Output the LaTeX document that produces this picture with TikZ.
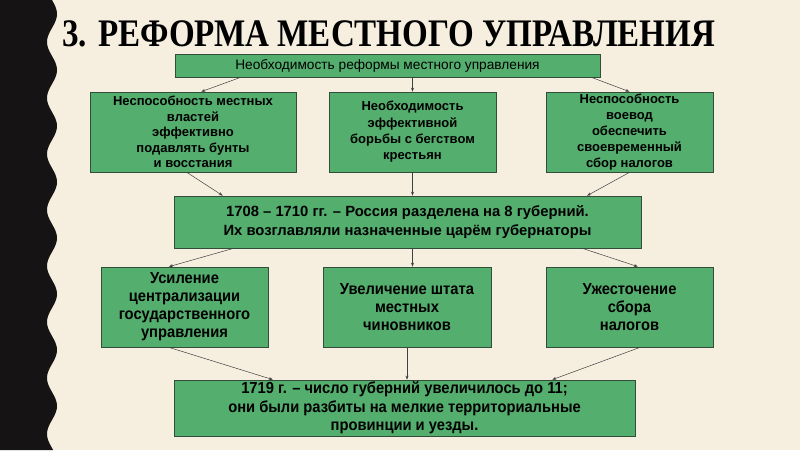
\documentclass[tikz,border=0pt]{standalone}
\usepackage{fontspec}
\setmainfont{Liberation Sans}
\newfontfamily\titlefont{Liberation Serif}
\newfontfamily\narrowfont[FakeStretch=0.92]{Liberation Sans}
\usetikzlibrary{arrows.meta,calc}
\definecolor{paper}{RGB}{246,239,224}
\definecolor{band}{RGB}{21,19,20}
\definecolor{boxgreen}{RGB}{84,174,110}
\definecolor{boxline}{RGB}{48,78,58}
\definecolor{arrowgrey}{RGB}{64,64,64}
\tikzset{
  box/.style={draw=boxline, fill=boxgreen, line width=0.7pt, align=center, inner sep=0pt, text=black},
  link/.style={draw=arrowgrey, line width=0.5pt, -{Stealth[length=4pt,width=3pt]}}
}
\begin{document}
\begin{tikzpicture}[x=1pt, y=-1pt]
        % Background %
        \fill[paper] (0,0) rectangle (800,450);
        \useasboundingbox (0,0) rectangle (800,450);
        \fill[band] (0,0) -- plot[domain=0:450, samples=220, smooth] ({52+5*sin(6.4286*\x)}, \x) -- (0,450) -- cycle;
        % Title %
        \node [anchor=base west, inner sep=0pt, font=\titlefont\bfseries\fontsize{39}{39}\selectfont] (title) at (62,46) {\resizebox{653pt}{\height}{3. РЕФОРМА МЕСТНОГО УПРАВЛЕНИЯ}};
        % Boxes %
        \node [box, minimum width=425pt, minimum height=23pt, font=\fontsize{13.7}{15}\selectfont] (need) at (387.5,65.5) {Необходимость реформы местного управления};
        \node [box, minimum width=206pt, minimum height=80pt, font=\bfseries\fontsize{13}{15.5}\selectfont] (rebels) at (193,132) {Неспособность местных\\властей\\эффективно\\подавлять бунты\\и восстания};
        \node [box, minimum width=167pt, minimum height=80pt, font=\bfseries\fontsize{13}{16.3}\selectfont] (serfs) at (412.5,132) {Необходимость\\эффективной\\борьбы с бегством\\крестьян};
        \node [box, minimum width=167pt, minimum height=80pt, font=\bfseries\fontsize{13}{16}\selectfont] (taxes) at (629.5,132) {Неспособность\\воевод\\обеспечить\\своевременный\\сбор налогов};
        \node [box, minimum width=467pt, minimum height=52pt, font=\bfseries\fontsize{14.8}{19}\selectfont] (gub) at (407.5,222) {1708 – 1710 гг. – Россия разделена на 8 губерний.\\Их возглавляли назначенные царём губернаторы};
        \node [box, minimum width=167pt, minimum height=80pt, font=\narrowfont\bfseries\fontsize{16}{18}\selectfont] (central) at (184.5,307) {Усиление\\централизации\\государственного\\управления};
        \node [box, minimum width=168pt, minimum height=80pt, font=\narrowfont\bfseries\fontsize{16}{18.3}\selectfont] (staff) at (407,307) {Увеличение штата\\местных\\чиновников};
        \node [box, minimum width=167pt, minimum height=80pt, font=\narrowfont\bfseries\fontsize{16}{18.3}\selectfont] (levy) at (629.5,307) {Ужесточение\\сбора\\налогов};
        \node [box, minimum width=461pt, minimum height=56pt, font=\narrowfont\bfseries\fontsize{16}{18.5}\selectfont] (eleven) at (404.5,408) {1719 г. – число губерний увеличилось до 11;\\они были разбиты на мелкие территориальные\\провинции и уезды.};
        % Arrows %
        \draw [link] ($(need.south west)!0.155!(need.south east)$) -- ($(rebels.north west)!0.54!(rebels.north east)$);
        \draw [link] (serfs.north |- need.south) -- (serfs.north);
        \draw [link] ($(need.south west)!0.979!(need.south east)$) -- (taxes.north);
        \draw [link] ($(rebels.south west)!0.47!(rebels.south east)$) -- ($(gub.north west)!0.105!(gub.north east)$);
        \draw [link] (serfs.south) -- (serfs.south |- gub.north);
        \draw [link] (taxes.south) -- ($(gub.north west)!0.884!(gub.north east)$);
        \draw [link] ($(gub.south west)!0.128!(gub.south east)$) -- ($(central.north west)!0.407!(central.north east)$);
        \draw [link] (serfs.south |- gub.south) -- (serfs.south |- staff.north);
        \draw [link] ($(gub.south west)!0.874!(gub.south east)$) -- ($(levy.north west)!0.55!(levy.north east)$);
        \draw [link] ($(central.south west)!0.407!(central.south east)$) -- ($(eleven.north west)!0.215!(eleven.north east)$);
        \draw [link] (staff.south) -- (staff.south |- eleven.north);
        \draw [link] ($(levy.south west)!0.563!(levy.south east)$) -- ($(eleven.north west)!0.82!(eleven.north east)$);
\end{tikzpicture}
\end{document}
